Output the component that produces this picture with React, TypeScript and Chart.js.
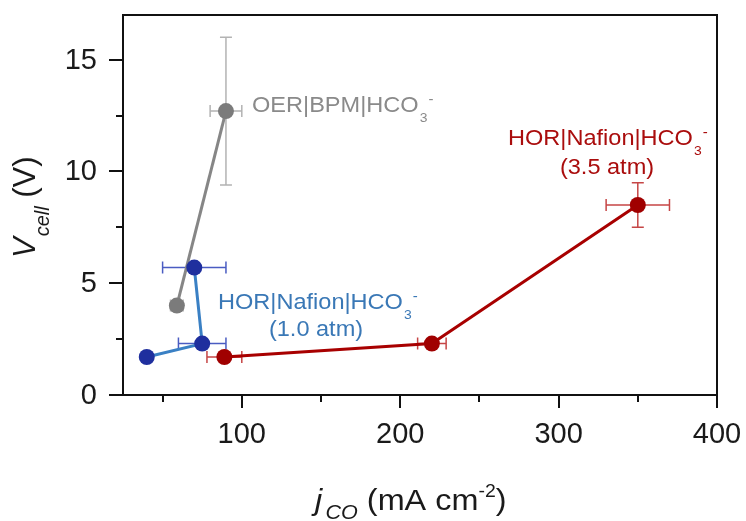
import React, { useEffect, useRef } from "react";
import { Chart, registerables } from "chart.js";
Chart.register(...registerables);

// ---- data ----
const oerX = [59, 90];
const oerY = [4.0, 12.7];
const oerXErr = [4, 10];
const oerYErr = [0.2, 3.3];

const hor10X = [40, 75, 70];
const hor10Y = [1.7, 2.3, 5.7];
const hor10XErr = [0, 15, 20];
const hor10YErr = [0, 0, 0];

const hor35X = [89, 220, 350];
const hor35Y = [1.7, 2.3, 8.5];
const hor35XErr = [11, 9, 20];
const hor35YErr = [0, 0, 1.0];

const xRange = [25, 400];
const yRange = [0, 17];
const xMajorTicks = [100, 200, 300, 400];
const xMinorTicks = [50, 150, 250, 350];
const yMajorTicks = [0, 5, 10, 15];
const yMinorTicks = [2.5, 7.5, 12.5];

const oerLabel = "OER|BPM|HCO";
const horLabel = "HOR|Nafion|HCO";
const hor10Sub = "(1.0 atm)";
const hor35Sub = "(3.5 atm)";

const FONT = '"Liberation Sans", Arial, Helvetica, sans-serif';

type Seg = { t: string; size: number; italic?: boolean; dy?: number; dx?: number };

function segFont(s: Seg) {
  return `${s.italic ? "italic " : ""}${s.size}px ${FONT}`;
}
function segsWidth(ctx: CanvasRenderingContext2D, segs: Seg[]) {
  let w = 0;
  for (const s of segs) {
    ctx.font = segFont(s);
    w += (s.dx || 0) + ctx.measureText(s.t).width;
  }
  return w;
}
function drawSegs(ctx: CanvasRenderingContext2D, segs: Seg[], x: number, y: number, color: string, scaleX = 1, align: "left" | "center" = "left", rot = 0) {
  ctx.save();
  ctx.translate(x, y);
  if (rot) ctx.rotate(rot);
  ctx.scale(scaleX, 1);
  ctx.fillStyle = color;
  ctx.textBaseline = "alphabetic";
  ctx.textAlign = "left";
  let cx = align === "center" ? -segsWidth(ctx, segs) / 2 : 0;
  for (const s of segs) {
    ctx.font = segFont(s);
    cx += s.dx || 0;
    ctx.fillText(s.t, cx, s.dy || 0);
    cx += ctx.measureText(s.t).width;
  }
  ctx.restore();
}
function chem(main: string): Seg[] {
  return [
    { t: main, size: 22 },
    { t: "3", size: 13, dy: 10, dx: 1 },
    { t: "-", size: 14, dy: -8, dx: 1 },
  ];
}

const GRAY = { marker: "#7b7b7b", line: "#868686", err: "#b3b3b3", text: "#8a8a8a" };
const BLUE = { marker: "#1f2f9e", line: "#3a80c4", err: "#4a5cc2", text: "#3a78b6" };
const RED = { marker: "#a00000", line: "#a80000", err: "#c64646", text: "#aa0d0d" };

const series = [
  { xs: hor10X, ys: hor10Y, xe: hor10XErr, ye: hor10YErr, c: BLUE },
  { xs: hor35X, ys: hor35Y, xe: hor35XErr, ye: hor35YErr, c: RED },
  { xs: oerX, ys: oerY, xe: oerXErr, ye: oerYErr, c: GRAY },
];

const errorBarPlugin = {
  id: "errbars",
  beforeDatasetsDraw(chart: any) {
    const ctx: CanvasRenderingContext2D = chart.ctx;
    const xs = chart.scales.x, ys = chart.scales.y;
    const cap = 6;
    ctx.save();
    ctx.lineWidth = 1.5;
    for (const s of series) {
      ctx.strokeStyle = s.c.err;
      s.xs.forEach((xv, i) => {
        const px = xs.getPixelForValue(xv);
        const py = ys.getPixelForValue(s.ys[i]);
        if (s.xe[i] > 0) {
          const l = xs.getPixelForValue(xv - s.xe[i]);
          const r = xs.getPixelForValue(xv + s.xe[i]);
          ctx.beginPath();
          ctx.moveTo(l, py); ctx.lineTo(r, py);
          ctx.moveTo(l, py - cap); ctx.lineTo(l, py + cap);
          ctx.moveTo(r, py - cap); ctx.lineTo(r, py + cap);
          ctx.stroke();
        }
        if (s.ye[i] > 0) {
          const t = ys.getPixelForValue(s.ys[i] + s.ye[i]);
          const b = ys.getPixelForValue(s.ys[i] - s.ye[i]);
          ctx.beginPath();
          ctx.moveTo(px, t); ctx.lineTo(px, b);
          ctx.moveTo(px - cap, t); ctx.lineTo(px + cap, t);
          ctx.moveTo(px - cap, b); ctx.lineTo(px + cap, b);
          ctx.stroke();
        }
      });
    }
    ctx.restore();
  },
};

const framePlugin = {
  id: "frame",
  afterDraw(chart: any) {
    const ctx: CanvasRenderingContext2D = chart.ctx;
    const a = chart.chartArea;
    const xs = chart.scales.x, ys = chart.scales.y;
    ctx.save();
    ctx.strokeStyle = "#111";
    ctx.lineWidth = 2;
    ctx.strokeRect(a.left, a.top, a.right - a.left, a.bottom - a.top);
    ctx.lineWidth = 2;
    ctx.beginPath();
    for (const v of yMajorTicks) {
      const y = Math.round(ys.getPixelForValue(v));
      ctx.moveTo(a.left - 14, y); ctx.lineTo(a.left, y);
    }
    for (const v of yMinorTicks) {
      const y = Math.round(ys.getPixelForValue(v));
      ctx.moveTo(a.left - 7, y); ctx.lineTo(a.left, y);
    }
    for (const v of xMajorTicks) {
      const x = Math.round(xs.getPixelForValue(v));
      ctx.moveTo(x, a.bottom); ctx.lineTo(x, a.bottom + 13);
    }
    for (const v of xMinorTicks) {
      const x = Math.round(xs.getPixelForValue(v));
      ctx.moveTo(x, a.bottom); ctx.lineTo(x, a.bottom + 7);
    }
    ctx.stroke();

    // tick labels
    ctx.fillStyle = "#1a1a1a";
    ctx.font = `29px ${FONT}`;
    ctx.textBaseline = "alphabetic";
    ctx.textAlign = "right";
    for (const v of yMajorTicks) {
      ctx.fillText(String(v), a.left - 26, ys.getPixelForValue(v) + 9);
    }
    ctx.textAlign = "center";
    for (const v of xMajorTicks) {
      ctx.fillText(String(v), xs.getPixelForValue(v), a.bottom + 48);
    }

    // axis titles
    drawSegs(ctx, [
      { t: "j", size: 30, italic: true },
      { t: "CO", size: 20, italic: true, dy: 9, dx: 3 },
      { t: " (mA cm", size: 30 },
      { t: "-2", size: 18, dy: -13 },
      { t: ")", size: 30 },
    ], 315, 510, "#1a1a1a", 1.08);
    drawSegs(ctx, [
      { t: "V", size: 31, italic: true },
      { t: "cell", size: 20, italic: true, dy: 14, dx: 1 },
      { t: " (V)", size: 31 },
    ], 35, 258, "#1a1a1a", 1, "left", -Math.PI / 2);

    // annotations
    drawSegs(ctx, chem(oerLabel), 252, 112, GRAY.text, 1.07);
    drawSegs(ctx, chem(horLabel), 218, 309, BLUE.text, 1.07);
    drawSegs(ctx, [{ t: hor10Sub, size: 22 }], 316, 336, BLUE.text, 1.07, "center");
    drawSegs(ctx, chem(horLabel), 508, 145, RED.text, 1.07);
    drawSegs(ctx, [{ t: hor35Sub, size: 22 }], 607, 174, RED.text, 1.07, "center");
    ctx.restore();
  },
};

export default function App() {
  const ref = useRef<HTMLCanvasElement | null>(null);
  useEffect(() => {
    if (!ref.current) return;
    const chart = new Chart(ref.current, {
      type: "scatter",
      data: {
        datasets: series.map((s) => ({
          data: s.xs.map((x, i) => ({ x, y: s.ys[i] })),
          showLine: true,
          borderColor: s.c.line,
          borderWidth: 3,
          pointRadius: 8,
          pointBackgroundColor: s.c.marker,
          pointBorderColor: s.c.marker,
          pointBorderWidth: 0,
          clip: false as any,
        })),
      },
      options: {
        animation: false,
        responsive: false,
        maintainAspectRatio: false,
        events: [],
        layout: { padding: { left: 123, right: 29, top: 15, bottom: 126 } },
        scales: {
          x: { type: "linear", min: xRange[0], max: xRange[1], display: false },
          y: { type: "linear", min: yRange[0], max: yRange[1], display: false },
        },
        plugins: { legend: { display: false }, tooltip: { enabled: false } },
      },
      plugins: [errorBarPlugin, framePlugin],
    });
    return () => chart.destroy();
  }, []);
  return (
    <div style={{ position: "fixed", left: 0, top: 0, width: 746, height: 521, background: "#fff" }}>
      <canvas ref={ref} width={746} height={521} style={{ display: "block", width: 746, height: 521 }} />
    </div>
  );
}
